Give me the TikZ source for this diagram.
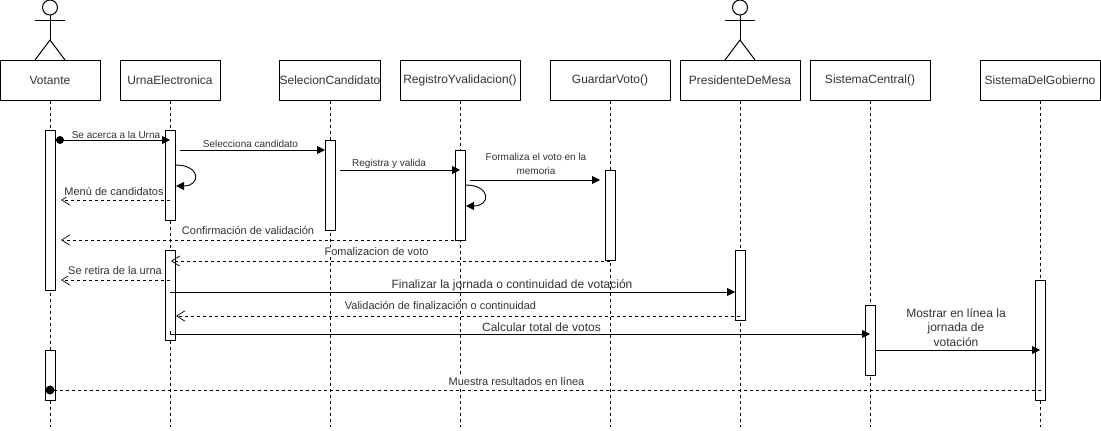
\documentclass[tikz,border=0pt]{standalone}
\usepackage{fontspec}
\setmainfont{Liberation Sans}
\usetikzlibrary{arrows.meta,positioning}

\definecolor{labeltext}{HTML}{333333}
\tikzset{
    headbox/.style={draw, line width=1pt, fill=white, minimum height=40pt, inner sep=0pt, text=labeltext, font=\fontsize{12}{14}\selectfont},
    actbar/.style={draw, line width=1pt, fill=white, minimum width=10pt, inner sep=0pt},
    lifeline/.style={line width=0.9pt, dash pattern=on 3pt off 3pt},
    callmsg/.style={line width=0.9pt, -{Triangle[length=8pt,width=8pt]}},
    backmsg/.style={line width=0.9pt, dash pattern=on 3pt off 3pt, -{Straight Barb[length=8pt,width=10pt,line width=0.7pt]}},
    msglabel/.style={inner sep=1pt, fill=white, text=labeltext, align=center, font=\fontsize{10}{14}\selectfont},
    msglabelb/.style={msglabel, font=\fontsize{11}{14}\selectfont},
    msglabelc/.style={msglabel, fill=none, font=\fontsize{12}{14.5}\selectfont}
}

\begin{document}
\begin{tikzpicture}[x=1pt, y=-1pt]
    \useasboundingbox (0,0) rectangle (1101,431);
    \fill[white] (0,0) rectangle (1101,431);

    % Stick figures
    \foreach \ax in {50,740} {
        \draw[line width=1pt] (\ax,7.5) circle (7.5pt);
        \draw[line width=1pt] (\ax,15) -- (\ax,40);
        \draw[line width=1pt] (\ax-15,20) -- (\ax+15,20);
        \draw[line width=1pt] (\ax-15,60) -- (\ax,40) -- (\ax+15,60);
    }

    % Lifeline heads and dashed lifelines
    \foreach \name/\cx/\boxw/\txt in {
        Votante/50/100/Votante,
        Urna/170/100/UrnaElectronica,
        Selecion/330/100/SelecionCandidato,
        Registro/460/120/RegistroYvalidacion(),
        Guardar/610/120/GuardarVoto(),
        Presidente/740/120/PresidenteDeMesa,
        Central/870/120/SistemaCentral(),
        Gobierno/1040/120/SistemaDelGobierno} {
        \node[headbox, minimum width=\boxw pt] (\name) at (\cx,80) {\txt};
        \coordinate (end\name) at (\cx,427);
        \draw[lifeline] (\name) -- (end\name);
    }

    % Activation bars
    \node[actbar, minimum height=160pt] (barVotanteA) at (50,210) {};
    \node[actbar, minimum height=50pt] (barVotanteB) at (50,375) {};
    \node[actbar, minimum height=90pt] (barUrnaA) at (170,175) {};
    \node[actbar, minimum height=90pt] (barUrnaB) at (170,295) {};
    \node[actbar, minimum height=90pt] (barSelecion) at (330,185) {};
    \node[actbar, minimum height=90pt] (barRegistro) at (460,195) {};
    \node[actbar, minimum height=90pt] (barGuardar) at (610,215) {};
    \node[actbar, minimum height=70pt] (barPresidente) at (740,285) {};
    \node[actbar, minimum height=70pt] (barCentral) at (870,340) {};
    \node[actbar, minimum height=120pt] (barGobierno) at (1040,340) {};

    % Message end points
    \coordinate (acercaA) at (60,140);
    \coordinate (acercaB) at (170,140);
    \coordinate (seleccionaA) at (180,150);
    \coordinate (seleccionaB) at (325,150);
    \coordinate (registraA) at (340,170);
    \coordinate (registraB) at (460,170);
    \coordinate (formalizaA) at (470,180);
    \coordinate (formalizaB) at (600,180);
    \coordinate (menuA) at (170,200);
    \coordinate (menuB) at (61,200);
    \coordinate (confirmaA) at (460,240);
    \coordinate (confirmaB) at (61,240);
    \coordinate (fomalizaA) at (610,261);
    \coordinate (fomalizaB) at (171,261);
    \coordinate (retiraA) at (170,280);
    \coordinate (retiraB) at (61,280);
    \coordinate (finalizarA) at (170,292);
    \coordinate (finalizarB) at (735,292);
    \coordinate (validaA) at (740,316);
    \coordinate (validaB) at (176,316);
    \coordinate (calcularA) at (170,331);
    \coordinate (calcularB) at (870,334);
    \coordinate (mostrarA) at (875,350);
    \coordinate (mostrarB) at (1040,350);
    \coordinate (muestraA) at (1041,390);
    \coordinate (muestraB) at (50,390);

    % Messages
    \draw[callmsg] (acercaA) -- (acercaB);
    \fill (acercaA) circle (4pt);
    \draw[callmsg] (seleccionaA) -- (seleccionaB);
    \draw[callmsg] (registraA) -- (registraB);
    \draw[callmsg] (formalizaA) -- (formalizaB);
    \draw[backmsg] (menuA) -- (menuB);
    \draw[backmsg] (confirmaA) -- (confirmaB);
    \draw[backmsg] (fomalizaA) -- (fomalizaB);
    \draw[backmsg] (retiraA) -- (retiraB);
    \draw[callmsg] (finalizarA) -- (finalizarB);
    \draw[backmsg] (validaA) -- (validaB);
    \draw[callmsg] (calcularA) |- (calcularB);
    \draw[callmsg] (mostrarA) -- (mostrarB);
    \draw[lifeline] (muestraA) -- (muestraB);
    \fill (muestraB) circle (4.5pt);

    % Self calls
    \coordinate (selfUrnaA) at (175.5,165);
    \coordinate (selfUrnaB) at (176,186);
    \draw[callmsg] (selfUrnaA) .. controls (201,165) and (201,186) .. (selfUrnaB);
    \coordinate (selfRegistroA) at (465.5,185);
    \coordinate (selfRegistroB) at (466,206);
    \draw[callmsg] (selfRegistroA) .. controls (491,185) and (491,206) .. (selfRegistroB);

    % Message labels
    \node[msglabel] (lblAcerca) at (116,135) {Se acerca a la Urna};
    \node[msglabel] (lblSelecciona) at (250.5,144) {Selecciona candidato};
    \node[msglabel] (lblRegistra) at (389,164) {Registra y valida};
    \node[msglabel] (lblFormaliza) at (536,164) {Formaliza el voto en la\\memoria};
    \node[msglabelb] (lblMenu) at (114,192) {Menú de candidatos};
    \node[msglabelb] (lblConfirma) at (248,231) {Confirmación de validación};
    \node[msglabelb] (lblFomaliza) at (376.5,252) {Fomalizacion de voto};
    \node[msglabelb] (lblRetira) at (115,271) {Se retira de la urna};
    \node[msglabelc] (lblFinalizar) at (512,285) {Finalizar la jornada o continuidad de votación};
    \node[msglabelb] (lblValida) at (440.5,306) {Validación de finalización o continuidad};
    \node[msglabelc] (lblCalcular) at (541.5,327) {Calcular total de votos};
    \node[msglabelc] (lblMostrar) at (956,327.5) {Mostrar en línea la\\jornada de\\votación};
    \node[msglabelb] (lblMuestra) at (516.5,381) {Muestra resultados en línea};
\end{tikzpicture}
\end{document}
